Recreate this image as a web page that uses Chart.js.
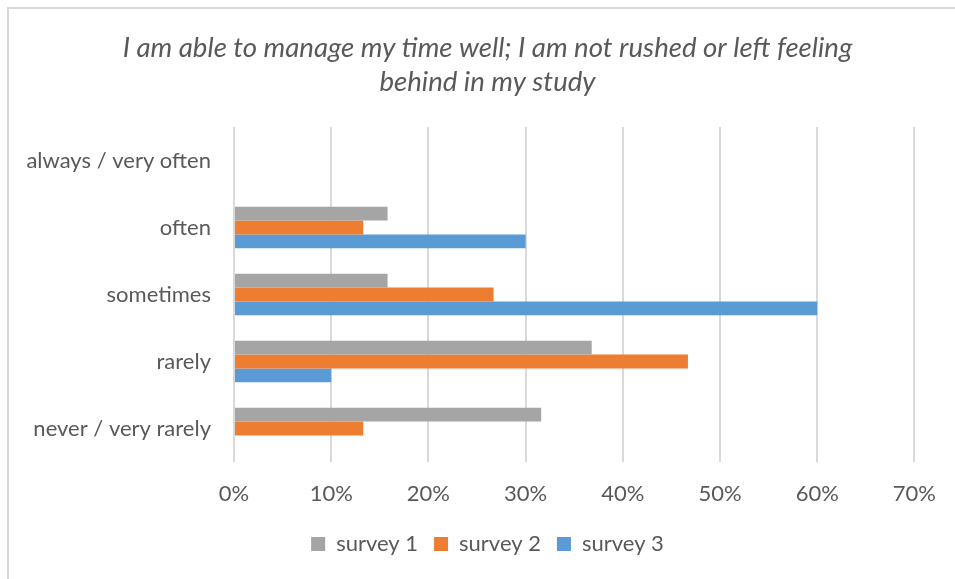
<!DOCTYPE html>
<html>
<head>
<meta charset="utf-8">
<script src="https://cdn.jsdelivr.net/npm/chart.js@4/dist/chart.umd.min.js"></script>
<style>
  html, body { margin: 0; padding: 0; background: #fff; }
  #wrap { position: relative; width: 955px; height: 579px; overflow: hidden; }
  #frame { position: absolute; left: 7px; top: 7px; width: 1000px; height: 700px; border-left: 2px solid #D9D9D9; border-top: 2px solid #D9D9D9; box-sizing: border-box; pointer-events: none; }
  canvas { position: absolute; left: 0; top: 0; }
</style>
</head>
<body>
<div id="wrap">
  <canvas id="c" width="955" height="579"></canvas>
  <div id="frame"></div>
</div>
<script>
const titleLines = ['I am able to manage my time well; I am not rushed or left feeling', 'behind in my study'];
const categories = ['always / very often', 'often', 'sometimes', 'rarely', 'never / very rarely'];
const seriesNames = ['survey 1', 'survey 2', 'survey 3'];
const survey1 = [0, 15.8, 15.8, 36.8, 31.6];
const survey2 = [0, 13.3, 26.7, 46.7, 13.3];
const survey3 = [0, 30, 60, 10, 0];
const xTicks = [0, 10, 20, 30, 40, 50, 60, 70];
const colors = ['#A5A5A5', '#ED7D31', '#5B9BD5'];

const FONT = "Lato, 'Liberation Sans', sans-serif";
const TEXT = '#595959';
const PAD_LEFT = 58;

new Chart(document.getElementById('c'), {
  type: 'bar',
  data: {
    labels: categories,
    datasets: [survey1, survey2, survey3].map((d, i) => ({
      label: seriesNames[i],
      data: d,
      backgroundColor: colors[i],
      borderWidth: 0,
      categoryPercentage: 0.618,
      barPercentage: 1.0
    }))
  },
  options: {
    indexAxis: 'y',
    responsive: false,
    animation: false,
    layout: { padding: { left: PAD_LEFT, right: 38, top: 0, bottom: 14 } },
    plugins: {
      title: {
        display: true,
        text: titleLines,
        color: TEXT,
        font: { family: FONT, size: 27.6, style: 'italic', weight: 'normal', lineHeight: 34 / 27.6 },
        padding: { top: 31, bottom: 28 }
      },
      legend: {
        position: 'bottom',
        labels: {
          color: TEXT,
          font: { family: FONT, size: 22 },
          boxWidth: 14,
          boxHeight: 14,
          padding: 16
        }
      },
      tooltip: { enabled: false }
    },
    scales: {
      x: {
        min: 0,
        max: 70,
        afterBuildTicks: (s) => { s.ticks = xTicks.map(v => ({ value: v })); },
        afterFit: (s) => { s.height = 55; },
        grid: { color: '#D9D9D9', lineWidth: 2, drawTicks: false },
        border: { display: false },
        ticks: {
          color: TEXT,
          font: { family: FONT, size: 22 },
          padding: 19,
          callback: (v) => v + '%'
        }
      },
      y: {
        afterFit: (s) => {
          s.width = 234 - PAD_LEFT;
          s._computeLabelArea = () => null;
        },
        grid: { display: false, drawTicks: false },
        border: { display: false },
        ticks: {
          color: TEXT,
          font: { family: FONT, size: 22 },
          padding: 23
        }
      }
    }
  }
});
</script>
</body>
</html>
